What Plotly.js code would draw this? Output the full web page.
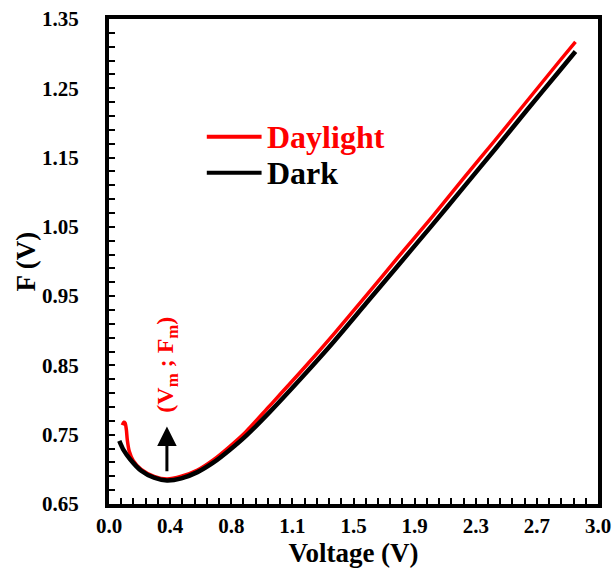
<!DOCTYPE html>
<html>
<head>
<meta charset="utf-8">
<script src="https://cdn.plot.ly/plotly-3.0.1.min.js"></script>
<style>html,body{margin:0;padding:0;background:#fff;}#chart{width:614px;height:575px;}</style>
</head>
<body>
<div id="chart"></div>
<script>
// Series names and colours
const seriesNames = ['Daylight', 'Dark'];
const seriesColors = ['#ff0000', '#000000'];
// Daylight (red) curve: voltage (V) and F (V)
const dayV = [0.083, 0.092, 0.100, 0.108, 0.114, 0.126, 0.150, 0.200, 0.280, 0.360, 0.450, 0.550, 0.650, 0.750, 0.850, 1.000, 1.200, 1.400, 1.600, 1.800, 2.000, 2.200, 2.400, 2.600, 2.800, 2.900];
const dayF = [0.764, 0.768, 0.767, 0.757, 0.742, 0.726, 0.713, 0.700, 0.690, 0.686, 0.690, 0.699, 0.714, 0.733, 0.754, 0.792, 0.843, 0.896, 0.951, 1.007, 1.062, 1.119, 1.175, 1.232, 1.289, 1.317];
// Dark (black) curve
const darkV = [0.064, 0.090, 0.130, 0.200, 0.280, 0.360, 0.450, 0.550, 0.650, 0.750, 0.850, 1.000, 1.200, 1.400, 1.600, 1.800, 2.000, 2.200, 2.400, 2.600, 2.800, 2.900];
const darkF = [0.741, 0.728, 0.715, 0.698, 0.688, 0.684, 0.687, 0.696, 0.710, 0.728, 0.748, 0.783, 0.833, 0.885, 0.940, 0.995, 1.050, 1.106, 1.162, 1.219, 1.275, 1.303];
// Axis ticks
const xTickVals = [0, 0.38, 0.76, 1.14, 1.52, 1.90, 2.28, 2.66, 3.04];
const xTickText = ['0.0', '0.4', '0.8', '1.1', '1.5', '1.9', '2.3', '2.7', '3.0'];
const yTickVals = [0.65, 0.75, 0.85, 0.95, 1.05, 1.15, 1.25, 1.35];
const yTickText = ['0.65', '0.75', '0.85', '0.95', '1.05', '1.15', '1.25', '1.35'];
// Minimum marker (Vm ; Fm)
const minV = 0.36, minF = 0.685, arrowTipF = 0.762, labelF = 0.851;

const serif = '"Liberation Serif", "Times New Roman", Times, "DejaVu Serif", serif';

const traces = [
  {x: dayV, y: dayF, type: 'scatter', mode: 'lines', name: seriesNames[0], showlegend: false,
   line: {color: seriesColors[0], width: 3.5, shape: 'spline', smoothing: 0.8}},
  {x: darkV, y: darkF, type: 'scatter', mode: 'lines', name: seriesNames[1], showlegend: false,
   line: {color: seriesColors[1], width: 4.5, shape: 'spline', smoothing: 0.8}}
];

// hand-made legend (line sample + label) in paper coordinates
const legendX0 = 0.200, legendX1 = 0.312, legendTextX = 0.318;
const legendY = [0.757, 0.683];
const legendShapes = seriesNames.map((n, i) => ({
  type: 'line', xref: 'paper', yref: 'paper', x0: legendX0, x1: legendX1, y0: legendY[i], y1: legendY[i],
  line: {color: seriesColors[i], width: 4}
}));
const legendLabels = seriesNames.map((n, i) => ({
  xref: 'paper', yref: 'paper', x: legendTextX, y: legendY[i], xanchor: 'left', yanchor: 'middle',
  showarrow: false, text: '<b>' + n + '</b>', font: {family: serif, size: 32, color: seriesColors[i]}
}));

const axisCommon = {
  showline: true, linecolor: '#000', linewidth: 4, mirror: true,
  ticks: 'inside', ticklen: 6, tickwidth: 2, tickcolor: '#000',
  showgrid: false, zeroline: false,
  tickfont: {family: serif, size: 21, color: '#000'}
};

const layout = {
  width: 614, height: 575,
  margin: {l: 109, r: 16, t: 19, b: 71},
  paper_bgcolor: '#fff', plot_bgcolor: '#fff',
  showlegend: false,
  font: {family: serif},
  xaxis: Object.assign({}, axisCommon, {
    range: [0, 3.04], tickmode: 'array', tickvals: xTickVals, ticktext: xTickText.map(t => '<b>' + t + '</b>'),
    ticklabelstandoff: 0,
    minor: {tickmode: 'linear', tick0: 0, dtick: 0.076, ticks: 'inside', ticklen: 6, tickwidth: 2, tickcolor: '#000', showgrid: false},
    title: {text: '<b>Voltage (V)</b>', font: {family: serif, size: 27, color: '#000'}, standoff: 0}
  }),
  yaxis: Object.assign({}, axisCommon, {
    range: [0.65, 1.35], tickmode: 'array', tickvals: yTickVals, ticktext: yTickText.map(t => '<b>' + t + '</b>'),
    ticklabelstandoff: 22,
    minor: {tickmode: 'linear', tick0: 0.65, dtick: 0.02, ticks: 'inside', ticklen: 6, tickwidth: 2, tickcolor: '#000', showgrid: false},
    title: {text: '<b>F (V)</b>', font: {family: serif, size: 27, color: '#000'}, standoff: 0}
  }),
  shapes: legendShapes,
  annotations: [
    {x: minV, y: arrowTipF, ax: minV, ay: minF, xref: 'x', yref: 'y', axref: 'x', ayref: 'y',
     showarrow: true, arrowhead: 2, arrowsize: 1.3, arrowwidth: 3, arrowcolor: '#000', text: ' '},
    {x: minV, y: labelF, xref: 'x', yref: 'y', showarrow: false, textangle: -90,
     text: '<b>(V<sub>m</sub> ; F<sub>m</sub>)</b>',
     font: {family: serif, size: 24, color: '#ff0000'}}
  ].concat(legendLabels)
};

Plotly.newPlot('chart', traces, layout, {displayModeBar: false, staticPlot: true});
</script>
</body>
</html>
